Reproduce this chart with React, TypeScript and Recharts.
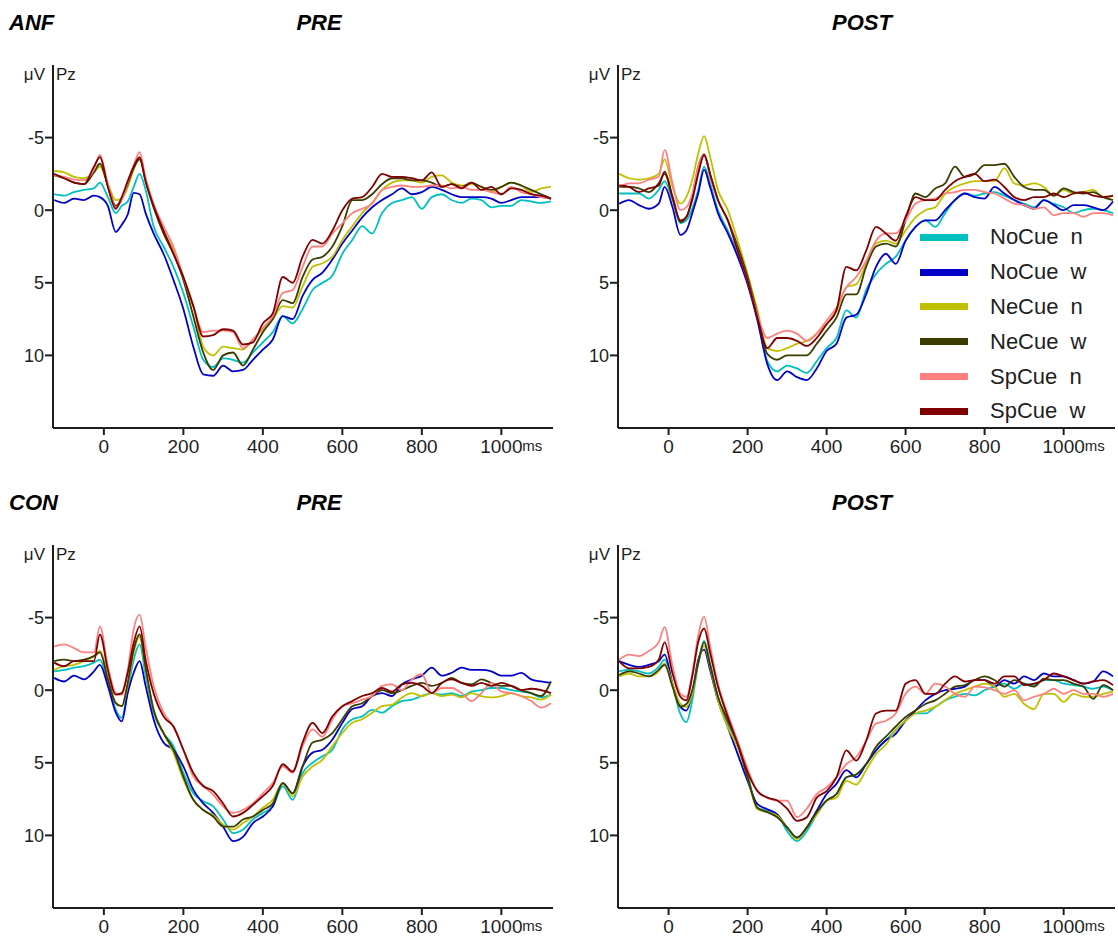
import React from 'react';
import { LineChart, Line, XAxis, YAxis, Legend } from 'recharts';

// sample times (ms)
const times = [
  -125, -100, -75, -50, -25, -10, 10, 30, 45, 60, 75, 90, 105,
  125, 150, 175, 200, 225, 250, 275, 300, 325, 350, 375, 400,
  425, 450, 475, 500, 525, 550, 575, 600, 625, 650, 675, 700,
  725, 750, 775, 800, 825, 850, 875, 900, 925, 950, 975, 1000,
  1025, 1050, 1075, 1100, 1125,
];

const seriesNames = ['NoCue n', 'NoCue w', 'NeCue n', 'NeCue w', 'SpCue n', 'SpCue w'];
const seriesColors = ['#00c0c0', '#0000c8', '#c0c000', '#3c3c00', '#ff8080', '#800000'];
const xTicks = [0, 200, 400, 600, 800, 1000];
const yTicks = [-5, 0, 5, 10];

// ANF - PRE
const anfPreNoN = [
  -1.1, -1.0, -1.25, -1.4, -1.5, -1.9, -0.9, 0.2, -0.3, -0.6, -1.6, -2.5, -1.4,
  1.1, 2.5, 3.9, 5.7, 8.0, 10.3, 10.8, 10.2, 10.3, 10.5, 9.8, 9.1,
  8.4, 7.3, 7.8, 6.8, 5.5, 5.0, 4.5, 3.0, 2.05, 1.1, 1.6, 0.2,
  -0.5, -0.7, -0.9, -0.1, -0.9, -1.1, -0.7, -0.5, -0.8, -0.7, -0.2, -0.3,
  -0.3, -0.7, -0.6, -0.5, -0.6,
];
const anfPreNoW = [
  -0.7, -0.5, -0.8, -0.7, -1.0, -0.9, -0.3, 1.5, 1.0, 0.3, -1.2, -1.1, 0.2,
  1.6, 3.0, 4.8, 6.8, 9.4, 11.3, 11.4, 10.7, 11.1, 11.0, 10.3, 9.6,
  8.9, 7.3, 7.5, 5.9, 4.8, 4.3, 3.4, 2.3, 1.4, 0.5, -0.2, -0.7,
  -1.1, -1.5, -1.1, -1.25, -1.6, -1.4, -1.1, -0.9, -0.9, -0.9, -0.8, -0.5,
  -0.7, -0.9, -0.9, -0.9, -0.8,
];
const anfPreNeN = [
  -2.7, -2.6, -2.3, -2.2, -2.6, -3.0, -1.8, -0.7, -0.8, -1.6, -2.8, -3.6, -2.2,
  -0.3, 1.4, 2.7, 4.6, 6.6, 9.4, 10.0, 9.4, 9.5, 9.6, 8.9, 8.2,
  7.5, 6.6, 6.7, 5.25, 3.9, 3.65, 3.2, 2.05, 1.1, 0.2, -0.5, -1.4,
  -1.9, -2.05, -2.05, -1.9, -2.3, -2.4, -1.9, -1.7, -1.8, -1.6, -1.25, -1.6,
  -1.9, -1.7, -1.25, -1.5, -1.6,
];
const anfPreNeW = [
  -2.4, -2.2, -1.9, -1.8, -2.6, -3.2, -1.7, -0.3, -0.8, -1.8, -2.9, -3.5, -2.0,
  -0.2, 1.6, 3.0, 4.8, 7.3, 9.8, 11.0, 10.0, 9.8, 10.7, 9.6, 8.4,
  7.5, 6.2, 6.4, 4.6, 3.4, 3.2, 2.5, 1.1, -0.7, -0.7, -1.1, -1.8,
  -2.2, -2.2, -2.05, -2.05, -1.9, -1.6, -1.8, -1.6, -1.9, -1.6, -1.4, -1.6,
  -1.9, -1.7, -1.4, -1.1, -0.8,
];
const anfPreSpN = [
  -2.4, -2.3, -2.1, -2.05, -2.8, -3.8, -1.8, -0.2, -0.7, -1.9, -3.1, -4.0, -2.2,
  -0.45, 1.1, 2.5, 4.6, 6.6, 8.4, 8.3, 8.3, 8.4, 9.5, 8.9, 8.1,
  7.3, 5.7, 5.5, 3.9, 2.5, 2.5, 1.6, 0.9, 0.2, -0.1, -0.45, -1.4,
  -1.6, -1.7, -1.6, -1.6, -1.7, -1.7, -1.5, -1.6, -1.4, -1.4, -1.25, -1.1,
  -1.6, -1.25, -1.1, -0.9, -0.8,
];
const anfPreSpW = [
  -2.5, -2.2, -1.9, -1.8, -3.0, -3.65, -1.6, -0.1, -0.9, -2.0, -3.0, -3.65, -2.0,
  -0.3, 1.4, 3.0, 4.6, 6.6, 8.7, 8.6, 8.2, 8.3, 9.25, 9.1, 7.8,
  7.1, 4.6, 5.0, 3.2, 2.05, 2.3, 1.4, 0.0, -0.8, -0.9, -1.6, -2.5,
  -2.3, -2.3, -2.2, -2.05, -2.6, -1.6, -1.8, -1.5, -1.9, -1.4, -1.6, -1.1,
  -1.5, -1.4, -1.1, -1.0, -0.8,
];

// ANF - POST
const anfPostNoN = [
  -1.15, -1.15, -1.15, -0.8, -1.4, -2.0, -0.7, 0.9, 0.7, -0.1, -1.4, -3.0, -1.85,
  0.0, 1.4, 3.0, 4.85, 7.4, 10.4, 11.1, 10.7, 10.9, 11.2, 10.4, 9.5,
  8.8, 6.9, 7.4, 5.5, 4.4, 3.7, 3.2, 2.1, 1.15, 0.7, 1.15, 0.2,
  -0.7, -1.15, -1.0, -1.15, -1.25, -1.0, -0.7, -0.45, -0.2, -0.7, -0.45, -0.2,
  0.2, 0.0, -0.1, 0.0, 0.2,
];
const anfPostNoW = [
  -0.45, -0.7, -0.35, -0.1, -0.45, -1.6, -0.2, 1.7, 1.4, 0.2, -1.15, -2.8, -1.6,
  0.2, 1.6, 3.2, 5.1, 7.6, 10.6, 11.7, 11.1, 11.5, 11.7, 10.9, 9.7,
  9.2, 7.4, 7.2, 5.8, 3.9, 3.0, 3.7, 2.1, 1.15, 0.7, 0.7, 0.0,
  -0.7, -1.15, -0.9, -0.8, -1.6, -1.15, -0.7, -0.35, -0.1, -0.7, -0.35, 0.0,
  -0.35, -0.35, -0.2, 0.0, -0.6,
];
const anfPostNeN = [
  -2.5, -2.2, -2.1, -2.2, -2.5, -3.5, -1.6, -0.45, -0.9, -2.1, -3.9, -5.1, -3.7,
  -1.4, 0.0, 2.1, 4.4, 6.9, 9.5, 9.7, 9.5, 9.2, 9.0, 8.5, 7.85,
  6.9, 5.3, 5.1, 3.7, 2.3, 2.1, 2.3, 1.4, 0.5, 0.0, -0.2, -1.15,
  -1.6, -1.85, -2.0, -2.0, -2.0, -2.9, -1.85, -1.7, -1.85, -1.6, -1.0, -1.4,
  -1.15, -1.25, -1.4, -0.9, -1.0,
];
const anfPostNeW = [
  -1.6, -1.6, -1.5, -1.25, -1.85, -2.5, -0.9, 0.7, 0.5, -0.9, -3.0, -3.8, -2.5,
  -0.7, 0.7, 2.5, 4.6, 7.2, 9.9, 10.3, 10.0, 10.0, 10.0, 9.2, 8.3,
  7.4, 5.8, 5.8, 3.9, 2.5, 2.3, 2.5, 0.7, -1.15, -0.9, -1.5, -1.85,
  -3.0, -2.3, -2.5, -3.1, -3.1, -3.2, -2.3, -1.6, -1.4, -1.4, -1.0, -1.5,
  -1.25, -1.15, -1.25, -0.9, -0.7,
];
const anfPostSpN = [
  -1.6, -1.85, -1.85, -2.1, -2.3, -4.15, -1.85, 0.0, -0.2, -1.15, -3.0, -3.9, -2.3,
  -0.7, 0.7, 2.8, 4.85, 7.2, 8.8, 8.5, 8.3, 8.5, 9.0, 8.5, 7.6,
  6.7, 5.3, 4.6, 3.5, 2.1, 1.6, 1.6, 0.7, -0.45, -0.7, -0.8, -1.15,
  -1.25, -1.4, -1.4, -1.25, -1.15, -0.8, -0.45, -0.35, -0.1, -0.2, 0.35, 0.2,
  0.2, 0.45, 0.2, 0.2, 0.35,
];
const anfPostSpW = [
  -1.7, -1.6, -1.25, -1.5, -1.7, -2.65, -0.9, 0.8, 0.45, -0.7, -2.5, -3.8, -2.5,
  -0.7, 0.7, 2.8, 4.85, 7.4, 9.5, 8.8, 8.8, 9.0, 9.35, 8.8, 7.85,
  6.9, 3.9, 4.15, 2.8, 1.15, 1.6, 2.1, 0.45, -0.9, -0.7, -0.7, -1.4,
  -2.0, -2.3, -2.5, -2.0, -2.1, -1.6, -0.9, -0.7, -0.9, -0.9, -1.15, -0.9,
  -1.15, -1.25, -1.0, -0.9, -1.0,
];

// CON - PRE
const conPreNoN = [
  -1.3, -1.4, -1.55, -1.65, -1.9, -2.1, -0.5, 1.35, 1.9, 0.0, -2.1, -3.15, -1.0,
  1.55, 2.95, 3.85, 5.7, 7.1, 7.65, 8.0, 8.9, 9.85, 9.6, 8.9, 8.45,
  8.0, 6.6, 7.55, 5.7, 5.0, 4.55, 4.1, 2.7, 2.0, 1.8, 1.35, 1.55,
  1.1, 0.75, 0.65, 0.4, 0.2, 0.3, 0.2, 0.4, 0.1, 0.0, -0.15, -0.15,
  0.0, 0.1, 0.2, 0.5, 0.3,
];
const conPreNoW = [
  -0.85, -0.6, -1.0, -0.75, -1.3, -1.75, -0.3, 1.55, 2.15, 0.2, -1.2, -2.0, -0.3,
  2.0, 3.6, 4.1, 5.25, 6.85, 7.8, 8.45, 9.4, 10.4, 10.1, 9.15, 8.7,
  8.0, 6.4, 7.1, 5.25, 4.3, 4.1, 3.4, 2.25, 1.3, 1.1, 0.4, 0.2,
  0.4, -0.4, -0.75, -1.0, -1.55, -1.0, -1.2, -1.55, -1.4, -1.4, -1.3, -1.0,
  -1.0, -1.2, -0.75, -0.6, -0.5,
];
const conPreNeN = [
  -1.4, -1.65, -1.75, -2.0, -2.35, -2.7, -1.0, 0.9, 1.1, -0.3, -2.6, -3.7, -1.4,
  1.35, 2.95, 4.3, 6.15, 7.55, 8.25, 8.6, 9.25, 9.6, 9.15, 8.7, 8.1,
  7.55, 6.4, 7.3, 5.95, 5.25, 4.8, 3.85, 2.95, 2.25, 2.0, 1.55, 1.1,
  1.0, 0.5, 0.2, 0.4, 0.2, 0.4, 0.3, 0.5, 0.2, 0.4, 0.5, 0.4,
  0.2, 0.4, 0.5, 0.65, 0.3,
];
const conPreNeW = [
  -2.0, -2.1, -2.0, -2.1, -2.35, -2.6, -0.75, 0.9, 1.1, -0.5, -2.8, -3.85, -1.55,
  1.35, 2.95, 4.1, 5.95, 7.55, 8.25, 8.7, 9.4, 9.4, 8.9, 8.7, 8.25,
  7.8, 6.4, 7.1, 5.25, 3.6, 3.4, 2.95, 2.0, 1.1, 0.9, 0.4, 0.0,
  0.2, 0.0, -0.3, -0.5, -0.3, -0.5, -0.85, -0.5, -0.4, -0.75, -0.5, -0.3,
  -0.3, 0.0, 0.2, 0.4, -0.6,
];
const conPreSpN = [
  -3.0, -3.15, -2.9, -2.6, -2.6, -4.4, -1.65, 0.2, 0.3, -1.4, -4.2, -5.2, -3.0,
  -0.3, 1.55, 2.5, 4.1, 5.95, 6.6, 7.2, 8.0, 8.45, 8.25, 7.8, 7.1,
  6.4, 5.25, 5.7, 3.85, 2.7, 3.2, 2.0, 1.1, 0.9, 0.65, 0.4, -0.3,
  -0.4, 0.0, -0.75, -1.1, 0.2, -0.15, -0.15, 0.2, 0.75, 0.2, -0.5, 0.1,
  0.2, 0.4, 0.75, 1.2, 0.9,
];
const conPreSpW = [
  -1.9, -1.65, -2.0, -2.0, -2.0, -3.85, -1.4, 0.3, 0.2, -1.2, -3.25, -4.4, -2.1,
  0.2, 1.8, 2.5, 4.1, 5.7, 6.6, 6.95, 7.8, 8.7, 8.45, 7.9, 7.3,
  6.6, 5.1, 5.6, 3.6, 2.25, 2.95, 1.8, 1.1, 0.75, 0.4, 0.2, -0.15,
  0.1, -0.4, -0.5, -0.3, 0.2, -0.5, -0.75, -0.5, -0.3, -0.5, -0.3, -0.5,
  -0.3, 0.0, -0.1, 0.0, 0.2,
];

// CON - POST
const conPostNoN = [
  -1.3, -1.4, -1.3, -1.15, -1.6, -2.1, -0.35, 1.65, 2.2, 0.7, -1.85, -3.4, -1.85,
  0.45, 2.3, 3.9, 5.8, 8.1, 8.3, 8.55, 9.7, 10.4, 9.7, 8.55, 7.6,
  7.15, 6.0, 5.8, 5.1, 4.15, 3.45, 2.75, 2.1, 1.6, 1.6, 1.15, 0.7,
  0.45, 0.25, 0.35, 0.0, -0.25, -0.45, -0.1, -0.45, -0.35, -0.7, -0.7, -0.45,
  -0.35, -0.25, -0.1, -0.25, 0.0,
];
const conPostNoW = [
  -2.0, -1.75, -1.6, -1.75, -2.0, -2.45, -0.45, 1.15, 1.4, 0.2, -2.1, -2.8, -1.4,
  0.7, 2.55, 4.4, 6.25, 7.85, 8.2, 8.55, 9.45, 10.15, 9.45, 8.3, 7.15,
  6.45, 5.5, 6.0, 5.1, 4.15, 3.45, 3.0, 2.1, 1.4, 0.7, 0.25, 0.0,
  -0.1, -0.25, -0.7, -0.7, -0.25, -0.7, -0.45, -0.95, -0.7, -1.15, -0.95, -0.95,
  -0.7, -0.45, -0.6, -1.3, -0.95,
];
const conPostNeN = [
  -0.95, -1.15, -0.95, -0.95, -1.3, -1.85, -0.45, 0.95, 1.15, 0.25, -1.85, -3.05, -1.65,
  0.7, 2.55, 3.9, 6.0, 8.2, 8.4, 8.65, 9.45, 10.25, 9.45, 8.55, 7.6,
  7.4, 6.25, 6.5, 5.5, 4.4, 3.75, 2.75, 2.1, 1.6, 1.4, 1.15, 0.7,
  0.25, 0.0, -0.25, -0.45, -0.25, 0.45, 0.25, 0.95, 1.3, 0.25, 0.25, 0.8,
  0.25, 0.45, 0.45, 0.25, 0.1,
];
const conPostNeW = [
  -1.05, -1.3, -1.15, -0.95, -1.4, -1.75, -0.25, 1.15, 0.95, 0.0, -1.85, -3.3, -1.75,
  0.45, 2.1, 3.7, 6.0, 8.1, 8.4, 8.75, 9.45, 10.15, 9.45, 8.4, 7.6,
  7.15, 6.0, 5.8, 5.1, 3.9, 3.2, 2.5, 1.85, 1.4, 0.95, 0.7, 0.25,
  -0.25, -0.35, -0.7, -0.95, -0.7, -0.25, -0.7, -0.45, -0.25, -0.8, -0.7, -0.7,
  -0.45, -0.25, 0.6, -0.35, 0.0,
];
const conPostSpN = [
  -2.1, -2.45, -2.35, -2.7, -3.3, -4.35, -1.65, 0.25, 0.45, -1.15, -3.75, -5.05, -3.05,
  -0.45, 1.65, 3.5, 5.4, 6.95, 7.4, 7.6, 7.6, 8.75, 8.15, 7.15, 6.7,
  6.0, 5.1, 4.6, 3.5, 2.3, 2.1, 1.6, 0.25, -0.25, 0.25, -0.45, -0.25,
  0.25, 0.45, -0.25, -0.2, 0.0, 0.25, 0.0, 0.7, 0.45, 0.25, -0.1, 0.25,
  0.0, 0.25, 0.25, 0.45, 0.25,
];
const conPostSpW = [
  -2.0, -1.5, -1.5, -1.6, -2.1, -3.3, -1.15, 0.45, 0.7, -0.95, -3.3, -4.25, -2.6,
  -0.25, 1.85, 3.7, 5.65, 6.95, 7.4, 7.6, 8.15, 9.0, 8.75, 7.4, 6.95,
  6.0, 4.15, 4.85, 3.5, 1.6, 1.4, 1.4, -0.45, -0.7, 0.25, 0.25, -0.45,
  -0.95, -0.6, -0.7, -0.7, -0.45, -0.95, -0.95, -0.35, -0.45, -0.7, -1.15, -0.95,
  -0.7, -0.45, -0.6, -0.7, -0.35,
];

const FONT = '"Liberation Sans", Arial, sans-serif';
const INK = '#1e1e1e';

const buildRows = (series: number[][]) =>
  times.map((t, i) => {
    const row: Record<string, number> = { t };
    series.forEach((s, k) => {
      row['s' + k] = s[i];
    });
    return row;
  });

const XTick = (props: any) => {
  const { x, y, payload } = props;
  const v = payload.value;
  return (
    <g>
      <text x={x} y={y} dy={16} textAnchor="middle" fontSize={19} fill={INK} fontFamily={FONT}>
        {v}
      </text>
      {v === 1000 && (
        <text x={x + 21} y={y} dy={14} fontSize={15} fill={INK} fontFamily={FONT}>
          ms
        </text>
      )}
    </g>
  );
};

// keep legend entries in the series order
const LegendBox = (props: any) => {
  const items = [...(props.payload || [])].sort(
    (a: any, b: any) => seriesNames.indexOf(a.value) - seriesNames.indexOf(b.value)
  );
  return (
    <div style={{ fontFamily: FONT }}>
      {items.map((p: any) => (
        <div key={p.value} style={{ display: 'flex', alignItems: 'center', height: 34.8 }}>
          <span style={{ display: 'inline-block', width: 48, height: 7, background: p.color, marginRight: 22 }} />
          <span style={{ fontSize: 22, color: INK, wordSpacing: 6, whiteSpace: 'pre' }}>{p.value}</span>
        </div>
      ))}
    </div>
  );
};

interface PanelProps {
  left: number;
  top: number;
  width: number;
  yAxisWidth: number;
  marginRight: number;
  series: number[][];
  legend?: boolean;
}

const Panel: React.FC<PanelProps> = ({ left, top, width, yAxisWidth, marginRight, series, legend }) => {
  const rows = buildRows(series);
  const axisX = left + yAxisWidth;
  return (
    <>
      <div style={{ position: 'absolute', left, top, width, height: 458 }}>
        <LineChart width={width} height={458} data={rows} margin={{ top: 65, right: marginRight, left: 0, bottom: 0 }}>
          <XAxis
            dataKey="t"
            type="number"
            domain={[-128, 1130]}
            ticks={xTicks}
            interval={0}
            allowDataOverflow
            height={30}
            tickSize={7}
            axisLine={{ stroke: INK, strokeWidth: 2 }}
            tickLine={{ stroke: INK, strokeWidth: 2 }}
            tick={<XTick />}
          />
          <YAxis
            type="number"
            domain={[-10, 15]}
            reversed
            ticks={yTicks}
            interval={0}
            allowDataOverflow
            width={yAxisWidth}
            tickSize={8}
            tickMargin={1}
            axisLine={{ stroke: INK, strokeWidth: 2 }}
            tickLine={{ stroke: INK, strokeWidth: 2 }}
            tick={{ fill: INK, fontSize: 18, fontFamily: FONT }}
          />
          {legend && (
            <Legend
              layout="vertical"
              align="center"
              verticalAlign="middle"
              wrapperStyle={{ left: 360, top: 220, width: 200 }}
              content={<LegendBox />}
            />
          )}
          {seriesNames.map((name, k) => (
            <Line
              key={name}
              dataKey={'s' + k}
              name={name}
              type="monotone"
              stroke={seriesColors[k]}
              strokeWidth={1.8}
              dot={false}
              activeDot={false}
              isAnimationActive={false}
            />
          ))}
        </LineChart>
      </div>
      <div style={{ position: 'absolute', left: axisX - 60, top: top + 66, width: 52, textAlign: 'right', fontSize: 17, lineHeight: '17px', color: INK, fontFamily: FONT }}>
        μV
      </div>
      <div style={{ position: 'absolute', left: axisX + 3, top: top + 66, fontSize: 17, lineHeight: '17px', color: INK, fontFamily: FONT }}>
        Pz
      </div>
    </>
  );
};

const titleStyle: React.CSSProperties = {
  position: 'absolute',
  fontFamily: FONT,
  fontWeight: 'bold',
  fontStyle: 'italic',
  fontSize: 22,
  lineHeight: '22px',
  color: '#000',
};

const Title = ({ x, y, text, center }: { x: number; y: number; text: string; center?: boolean }) =>
  center ? (
    <div style={{ ...titleStyle, left: x - 100, top: y, width: 200, textAlign: 'center' }}>{text}</div>
  ) : (
    <div style={{ ...titleStyle, left: x, top: y }}>{text}</div>
  );

export default function App() {
  return (
    <div style={{ position: 'absolute', left: 0, top: 0, width: 1118, height: 938, background: '#fff', overflow: 'hidden' }}>
      <Title x={9} y={12} text="ANF" />
      <Title x={319} y={12} text="PRE" center />
      <Title x={862} y={12} text="POST" center />
      <Title x={9} y={492} text="CON" />
      <Title x={319} y={492} text="PRE" center />
      <Title x={862} y={492} text="POST" center />

      <Panel left={0} top={0} width={560} yAxisWidth={53} marginRight={7}
        series={[anfPreNoN, anfPreNoW, anfPreNeN, anfPreNeW, anfPreSpN, anfPreSpW]} />
      <Panel left={560} top={0} width={558} yAxisWidth={58} marginRight={3} legend
        series={[anfPostNoN, anfPostNoW, anfPostNeN, anfPostNeW, anfPostSpN, anfPostSpW]} />
      <Panel left={0} top={480} width={560} yAxisWidth={53} marginRight={7}
        series={[conPreNoN, conPreNoW, conPreNeN, conPreNeW, conPreSpN, conPreSpW]} />
      <Panel left={560} top={480} width={558} yAxisWidth={58} marginRight={3}
        series={[conPostNoN, conPostNoW, conPostNeN, conPostNeW, conPostSpN, conPostSpW]} />
    </div>
  );
}
